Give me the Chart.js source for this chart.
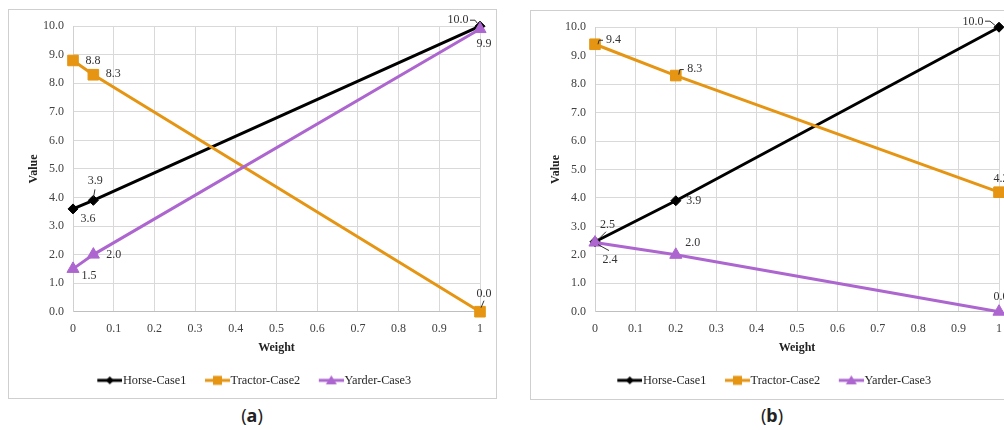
<!DOCTYPE html>
<html><head><meta charset="utf-8">
<script src="https://cdn.jsdelivr.net/npm/chart.js@4.4.1/dist/chart.umd.min.js"></script>
<style>
html,body{margin:0;padding:0;background:#fff;width:1004px;height:430px;overflow:hidden;position:relative}
.panel{position:absolute;border:1px solid #cfcfcf;box-sizing:content-box;background:#fff}
.panel canvas{display:block}
.cap{position:absolute;font-family:"Noto Sans",sans-serif;font-size:18px;color:#222;transform:translateX(-50%);white-space:nowrap}
</style></head><body>
<div class="panel" style="left:8px;top:9px;width:487px;height:388px"><canvas id="ca" width="487" height="388"></canvas></div>
<div class="panel" style="left:530px;top:10px;width:487px;height:388px"><canvas id="cb" width="487" height="388"></canvas></div>
<div class="cap" style="left:252px;top:403px">(<b>a</b>)</div>
<div class="cap" style="left:772px;top:403px">(<b>b</b>)</div>
<script>
// ---- data ----
const seriesNames = ['Horse-Case1', 'Tractor-Case2', 'Yarder-Case3'];
const weightsA = [0, 0.05, 1];
const horseA   = [3.6, 3.9, 10.0];
const tractorA = [8.8, 8.3, 0.0];
const yarderA  = [1.5, 2.0, 9.9];
const weightsB = [0, 0.2, 1];
const horseB   = [2.46, 3.9, 10.0];
const tractorB = [9.4, 8.3, 4.2];
const yarderB  = [2.43, 2.0, 0.0];

// ---- styles ----
const colors = ['#000000', '#e69512', '#ad66cf'];
const pStyles = ['rectRot', 'rect', 'triangle'];
const pRadius = [5, 7.5, 7];
const drawOrder = [2, 1, 0];

// label placement (pixel offsets from point) & leader polylines
const labelPosA = [
  [[15, 10], [2, -20, [[1.6, -11], [0.2, -3]]], [-22, -6, [[-10, -6], [-5, -6], [-2, -2]]]],
  [[20, 0], [20, -1], [4, -18, [[4, -11], [1, -4]]]],
  [[16, 7], [20.5, 0], [4, 15]]
];
const labelPosB = [
  [[12.5, -17, [[3, -2], [11, -10]]], [18, 0], [-26, -5, [[-14, -6], [-9, -6], [-3, -1]]]],
  [[18.5, -4, [[3, 0], [4, -4], [8, -4]]], [19, -7, [[3, -1], [4, -6], [8, -6]]], [2, -13.5]],
  [[15, 17, [[3, 2], [14, 8]]], [17, -12], [2, -15]]
];

Chart.defaults.font.family = '"Liberation Serif", "Times New Roman", serif';
Chart.defaults.color = '#333';

function labelPlugin(layout) {
  return {
    id: 'ptLabels',
    afterDatasetsDraw(chart) {
      const ctx = chart.ctx;
      ctx.save();
      ctx.font = '12px "Liberation Serif"';
      ctx.fillStyle = '#333'; ctx.strokeStyle = '#333'; ctx.lineWidth = 1;
      ctx.textAlign = 'center'; ctx.textBaseline = 'middle';
      chart.data.datasets.forEach((ds, di) => {
        const meta = chart.getDatasetMeta(di);
        meta.data.forEach((pt, i) => {
          const s = layout[di][i]; if (!s) return;
          ctx.fillText(ds.data[i].y.toFixed(1), pt.x + s[0], pt.y + s[1]);
          if (s[2]) {
            ctx.beginPath();
            s[2].forEach((p, k) => k ? ctx.lineTo(pt.x + p[0], pt.y + p[1]) : ctx.moveTo(pt.x + p[0], pt.y + p[1]));
            ctx.stroke();
          }
        });
      });
      ctx.restore();
    }
  };
}

function legendIcon(color, style) {
  const c = document.createElement('canvas'); c.width = 30; c.height = 14;
  const g = c.getContext('2d');
  g.strokeStyle = color; g.fillStyle = color; g.lineWidth = 3;
  g.beginPath(); g.moveTo(5, 7); g.lineTo(30, 7); g.stroke();
  const cx = 17.5, cy = 7;
  g.beginPath();
  if (style === 'rectRot') { g.moveTo(cx, cy - 4); g.lineTo(cx + 4, cy); g.lineTo(cx, cy + 4); g.lineTo(cx - 4, cy); }
  else if (style === 'rect') { g.rect(cx - 4.5, cy - 4.5, 9, 9); }
  else { g.moveTo(cx, cy - 5); g.lineTo(cx + 5.5, cy + 4); g.lineTo(cx - 5.5, cy + 4); }
  g.closePath(); g.fill();
  return c;
}
const icons = colors.map((c, i) => legendIcon(c, pStyles[i]));

function makeChart(id, weights, series, layoutPos, pad, yWidth, titlePad) {
  const datasets = series.map((vals, i) => ({
    label: seriesNames[i],
    data: weights.map((w, k) => ({x: w, y: vals[k]})),
    borderColor: colors[i], backgroundColor: colors[i],
    borderWidth: 3, tension: 0, order: drawOrder[i],
    pointStyle: pStyles[i], pointRadius: pRadius[i], pointBorderWidth: 1,
    pointBackgroundColor: colors[i], pointBorderColor: colors[i],
    clip: false
  }));
  return new Chart(document.getElementById(id), {
    type: 'line',
    data: {datasets},
    options: {
      responsive: false, animation: false,
      layout: {padding: pad},
      plugins: {
        tooltip: {enabled: false},
        legend: {
          position: 'bottom',
          labels: {
            usePointStyle: true, pointStyleWidth: 19, padding: 19,
            color: '#262626', font: {size: 12.3},
            generateLabels: (chart) => chart.data.datasets.map((ds, i) => ({
              text: ds.label, pointStyle: icons[i], fillStyle: ds.borderColor,
              strokeStyle: ds.borderColor, lineWidth: 0, hidden: false, datasetIndex: i, fontColor: '#262626'
            }))
          }
        }
      },
      scales: {
        x: {
          type: 'linear', min: 0, max: 1,
          ticks: {stepSize: 0.1, padding: 10, color: '#404040', font: {size: 12},
            callback: v => (Math.abs(v) < 1e-9 ? '0' : Math.abs(v - 1) < 1e-9 ? '1' : v.toFixed(1))},
          grid: {color: '#d9d9d9', drawTicks: false},
          border: {color: '#bfbfbf'},
          title: {display: true, text: 'Weight', color: '#222', font: {size: 12, weight: 'bold'}, padding: {top: 0, bottom: 0.5}},
          afterFit(s) { s.height = 43.5; }
        },
        y: {
          min: 0, max: 10,
          ticks: {stepSize: 1, padding: 9, color: '#404040', font: {size: 12}, callback: v => v.toFixed(1)},
          grid: {color: '#d9d9d9', drawTicks: false},
          border: {color: '#d0d0d0'},
          title: {display: true, text: 'Value', color: '#222', font: {size: 12, weight: 'bold'}, padding: {top: titlePad, bottom: 0}},
          afterFit(s) { s.width = yWidth; }
        }
      }
    },
    plugins: [labelPlugin(layoutPos)]
  });
}

makeChart('ca', weightsA, [horseA, tractorA, yarderA], labelPosA, {left: 20, right: 16, top: 14, bottom: 1.5}, 44, -2);
makeChart('cb', weightsB, [horseB, tractorB, yarderB], labelPosB, {left: 19, right: 19, top: 13, bottom: 2.5}, 45, -1);
</script>
</body></html>
